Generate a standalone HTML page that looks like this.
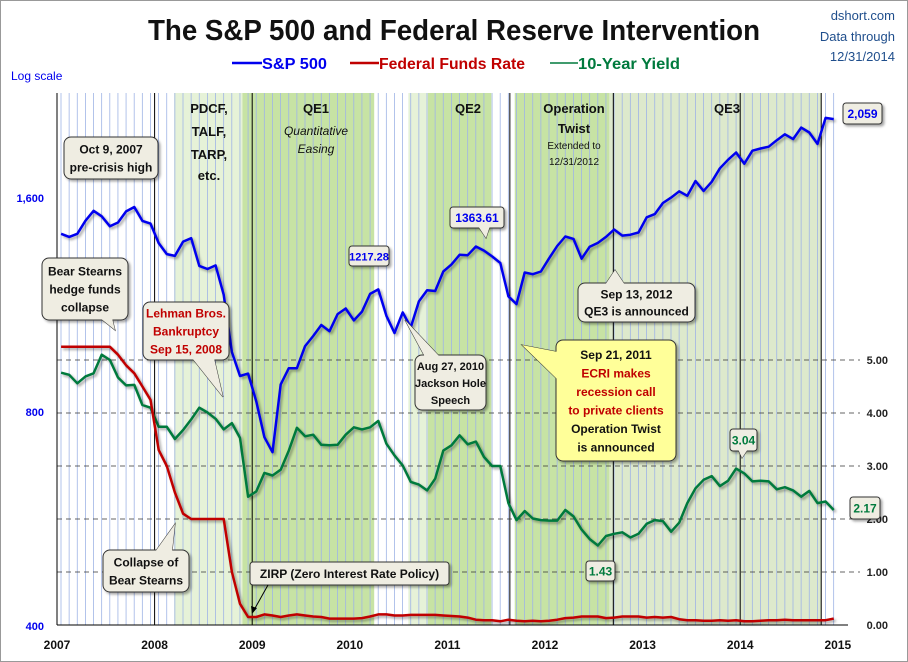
<!DOCTYPE html>
<html><head><meta charset="utf-8">
<style>
body{margin:0;background:#fff;}
svg{display:block;font-family:"Liberation Sans Narrow","Liberation Sans",sans-serif;}
.b{font-weight:bold;}
</style></head>
<body>
<svg id="chart" width="908" height="662" viewBox="0 0 908 662">
<defs>
<filter id="sh" x="-10%" y="-10%" width="130%" height="140%"><feDropShadow dx="2" dy="2" stdDeviation="1.2" flood-color="#000" flood-opacity="0.35"/></filter>
</defs>
<rect x="0.5" y="0.5" width="907" height="661" fill="#fff" stroke="#999"/>
<g id="bg"></g>
<g id="grid"></g>
<g id="series"></g>
<g id="axes"></g>

<text x="148" y="40" textLength="612" lengthAdjust="spacingAndGlyphs" font-size="29" class="b" fill="#111">The S&amp;P 500 and Federal Reserve Intervention</text>
<g fill="#1f4e8c" font-size="13" text-anchor="end">
<text x="895" y="20">dshort.com</text><text x="895" y="41">Data through</text><text x="895" y="61">12/31/2014</text></g>
<g font-size="16" class="b">
<line x1="232" y1="63" x2="262" y2="63" stroke="#0000ee" stroke-width="2.5"/><text x="262" y="69" fill="#0000ee" textLength="65" lengthAdjust="spacingAndGlyphs">S&amp;P 500</text>
<line x1="350" y1="63" x2="379" y2="63" stroke="#c00000" stroke-width="2.5"/><text x="379" y="69" fill="#c00000" textLength="146" lengthAdjust="spacingAndGlyphs">Federal Funds Rate</text>
<line x1="550" y1="63" x2="578" y2="63" stroke="#007a3d" stroke-width="1.5"/><text x="578" y="69" fill="#007a3d" textLength="102" lengthAdjust="spacingAndGlyphs">10-Year Yield</text></g>
<text x="11" y="80" font-size="12" fill="#0000ee">Log scale</text>

<g font-size="13" fill="#111" text-anchor="middle">
<text x="209" y="113" class="b">PDCF,</text><text x="209" y="136" class="b">TALF,</text><text x="209" y="159" class="b">TARP,</text><text x="209" y="180" class="b">etc.</text>
<text x="316" y="113" class="b">QE1</text><text x="316" y="135" font-style="italic" font-size="12">Quantitative</text><text x="316" y="153" font-style="italic" font-size="12">Easing</text>
<text x="468" y="113" class="b">QE2</text>
<text x="574" y="113" class="b">Operation</text><text x="574" y="133" class="b">Twist</text><text x="574" y="149" font-size="10">Extended to</text><text x="574" y="165" font-size="10">12/31/2012</text>
<text x="727" y="113" class="b">QE3</text></g>
<g id="notes"></g>
</svg>
<script>
const spx=[1420,1406,1420,1482,1530,1503,1455,1473,1527,1549,1481,1468,
1378,1330,1322,1385,1400,1280,1267,1282,1166,968,896,903,
825,735,700,872,919,919,987,1020,1057,1036,1095,1115,
1073,1104,1169,1186,1089,1030,1101,1049,1141,1183,1180,1257,
1286,1327,1325,1363,1345,1320,1292,1160,1131,1253,1246,1257,
1312,1365,1408,1397,1310,1362,1379,1406,1440,1412,1416,1426,
1498,1514,1569,1597,1630,1606,1685,1632,1681,1756,1805,1848,
1782,1859,1872,1883,1923,1960,1930,2003,1972,1900,2067,2059];
const fedFunds=[5.25,5.25,5.25,5.25,5.25,5.25,5.25,5.1,4.9,4.75,4.5,4.25,
3.3,3.0,2.5,2.1,2.0,2.0,2.0,2.0,2.0,1.0,0.4,0.15,
0.15,0.2,0.18,0.15,0.18,0.2,0.18,0.16,0.15,0.12,0.12,0.12,
0.12,0.13,0.16,0.2,0.2,0.18,0.18,0.19,0.19,0.19,0.19,0.18,
0.17,0.16,0.14,0.1,0.09,0.09,0.07,0.1,0.08,0.07,0.08,0.07,
0.08,0.1,0.13,0.14,0.16,0.16,0.16,0.13,0.14,0.16,0.16,0.16,
0.14,0.15,0.14,0.15,0.11,0.09,0.09,0.08,0.08,0.09,0.08,0.09,
0.07,0.07,0.08,0.09,0.09,0.1,0.09,0.09,0.09,0.09,0.09,0.12];
const tenYear=[4.76,4.72,4.56,4.69,4.75,5.10,5.00,4.67,4.52,4.53,4.15,4.10,
3.74,3.74,3.51,3.68,3.88,4.10,4.01,3.89,3.69,3.81,3.53,2.42,
2.52,2.87,2.82,2.93,3.29,3.72,3.56,3.59,3.40,3.39,3.40,3.59,
3.73,3.69,3.73,3.85,3.42,3.20,3.01,2.70,2.65,2.54,2.76,3.29,
3.39,3.58,3.41,3.46,3.17,3.00,3.00,2.30,1.98,2.15,2.01,1.98,
1.97,1.97,2.17,2.05,1.80,1.62,1.50,1.68,1.72,1.75,1.65,1.72,
1.91,1.98,1.96,1.76,1.93,2.30,2.58,2.74,2.81,2.62,2.72,2.95,
2.86,2.71,2.72,2.71,2.56,2.60,2.54,2.42,2.53,2.30,2.33,2.17];
const years=[2007,2008,2009,2010,2011,2012,2013,2014,2015];
const leftTicks=[400,800,1600];
const leftTickLabels=["400","800","1,600"];
const rightTicks=[0,1,2,3,4,5];
const rightTickLabels=["0.00","1.00","2.00","3.00","4.00","5.00"];

const NS="http://www.w3.org/2000/svg";
const X0=57,XPY=97.6,PR=848,PT=93,PB=625;
const xT=t=>X0+(t-2007)*XPY;
const xM=i=>xT(2007+(i+0.5)/12);
const yL=v=>PB-Math.log2(v/400)*214;
const yR=v=>PB-v*53;
function mk(tag,attrs,parent,txt){const e=document.createElementNS(NS,tag);for(const k in attrs)e.setAttribute(k,attrs[k]);if(txt!==undefined)e.textContent=txt;parent.appendChild(e);return e;}
const bg=document.getElementById('bg'),grid=document.getElementById('grid'),ser=document.getElementById('series'),ax=document.getElementById('axes'),notes=document.getElementById('notes');

const regions=[[2008.2,2008.9,'#e6f2d8'],[2008.9,2010.25,'#c7e3a4'],[2010.6,2010.8,'#e6f2d8'],[2010.8,2011.45,'#c7e3a4'],[2011.69,2012.66,'#c7e3a4'],[2012.66,2014.83,'#dde9cc']];
regions.forEach(r=>{const e=mk('rect',{x:xT(r[0]),y:PT,width:xT(r[1])-xT(r[0]),height:PB-PT,fill:r[2]},bg);

});
for(let m=0;m<96;m++){const x=xT(2007+m/12)+4;const e=mk('line',{x1:x,y1:PT,x2:x,y2:PB,stroke:'#9fb4e6','stroke-width':0.8},bg);

}
[2008,2009,2011.64,2012.7,2014,2014.83].forEach(t=>{const e=mk('line',{x1:xT(t),y1:PT,x2:xT(t),y2:PB,stroke:'#000','stroke-width':1},bg);

});
rightTicks.forEach((v,i)=>{if(v>0){const e=mk('line',{x1:X0,y1:yR(v),x2:PR+12,y2:yR(v),stroke:'#333','stroke-dasharray':'5,4','stroke-width':0.8},grid);

}
const t=mk('text',{x:888,y:yR(v)+4,'text-anchor':'end','font-size':11,'font-weight':'bold',fill:'#222'},ax,rightTickLabels[i]);

});
leftTicks.forEach((v,i)=>{const t=mk('text',{x:44,y:yL(v)+5,'text-anchor':'end','font-size':11,'font-weight':'bold',fill:'#0000ee'},ax,leftTickLabels[i]);

});
years.forEach(y=>{const t=mk('text',{x:xT(y),y:649,'text-anchor':'middle','font-size':12,'font-weight':'bold',fill:'#111'},ax,String(y));

});
mk('line',{x1:X0,y1:PT,x2:X0,y2:PB,stroke:'#000'},ax);
mk('line',{x1:X0,y1:PB,x2:PR,y2:PB,stroke:'#000'},ax);

function line(arr,yf,col,w,name){const pts=arr.map((v,i)=>xM(i).toFixed(1)+','+yf(v).toFixed(1)).join(' ');
const e=mk('polyline',{points:pts,fill:'none',stroke:col,'stroke-width':w,'stroke-linejoin':'round',filter:'url(#sh)'},ser);

}
line(tenYear,yR,'#007a3d',2.5,'ten-year-yield-line');
line(fedFunds,yR,'#c00000',2.5,'fed-funds-line');
line(spx,yL,'#0000ee',2.5,'sp500-line');

function note(x,y,w,h,lines,opt){opt=opt||{};const g=mk('g',{},notes);


if(opt.ptr){mk('polygon',{points:opt.ptr,fill:opt.fill||'#efede2',stroke:'#333','stroke-width':1},g);}
mk('rect',{x:x,y:y,width:w,height:h,rx:opt.rx===undefined?7:opt.rx,fill:opt.fill||'#efede2',stroke:'#333','stroke-width':1,filter:'url(#sh)'},g);
if(opt.ptr){mk('polygon',{points:opt.ptr,fill:opt.fill||'#efede2'},g);}
const lh=opt.lh||18,fs=opt.fs||12;const y0=y+(h-lines.length*lh)/2+lh*0.75;
lines.forEach((l,i)=>{const c=Array.isArray(l)?l[1]:(opt.color||'#111');const s=Array.isArray(l)?l[0]:l;
mk('text',{x:x+w/2,y:y0+i*lh,'text-anchor':'middle','font-size':fs,'font-weight':'bold',fill:c},g,s);});}
note(64,137,94,42,['Oct 9, 2007','pre-crisis high'],{name:'pre-crisis-high-note'});
note(42,258,86,62,['Bear Stearns','hedge funds','collapse'],{name:'bear-hedge-note',ptr:'100,318 115,330 112,318'});
note(143,302,86,58,['Lehman Bros.','Bankruptcy','Sep 15, 2008'],{name:'lehman-note',color:'#c00000',ptr:'192,358 223,397 214,358'});
note(103,550,86,42,['Collapse of','Bear Stearns'],{name:'bear-collapse-note',ptr:'155,552 175,524 172,552'});
note(250,562,199,23,['ZIRP (Zero Interest Rate Policy)'],{name:'zirp-note',rx:3});
mk('line',{x1:268,y1:585,x2:254,y2:610,stroke:'#000','stroke-width':1},notes);
mk('polygon',{points:'252,614 251,606 257,608',fill:'#000'},notes);
note(349,246,40,20,[['1217.28','#0000ee']],{name:'peak-2010-label',rx:3,fs:11});
note(450,207,54,21,[['1363.61','#0000ee']],{name:'peak-2011-label',rx:3,ptr:'478,226 486,238 490,226'});
note(415,355,71,55,['Aug 27, 2010','Jackson Hole','Speech'],{name:'jackson-hole-note',ptr:'425,357 405,320 440,357',lh:17,fs:11});
note(578,283,117,39,['Sep 13, 2012','QE3 is announced'],{name:'qe3-note',ptr:'605,285 615,270 625,285',lh:17});
note(556,340,120,121,['Sep 21, 2011',['ECRI makes','#c00000'],['recession call','#c00000'],['to private clients','#c00000'],'Operation Twist','is announced'],{name:'operation-twist-note',fill:'#ffff99',ptr:'558,352 522,345 558,380',lh:18.5});
note(730,429,27,22,[['3.04','#007a3d']],{name:'yield-high-label',rx:3,ptr:'738,449 742,458 748,449'});
note(586,561,29,20,[['1.43','#007a3d']],{name:'yield-low-label',rx:3});
note(843,103,39,21,[['2,059','#0000ee']],{name:'sp500-last-label',rx:3});
note(850,497,30,22,[['2.17','#007a3d']],{name:'yield-last-label',rx:3});
</script>
</body></html>
